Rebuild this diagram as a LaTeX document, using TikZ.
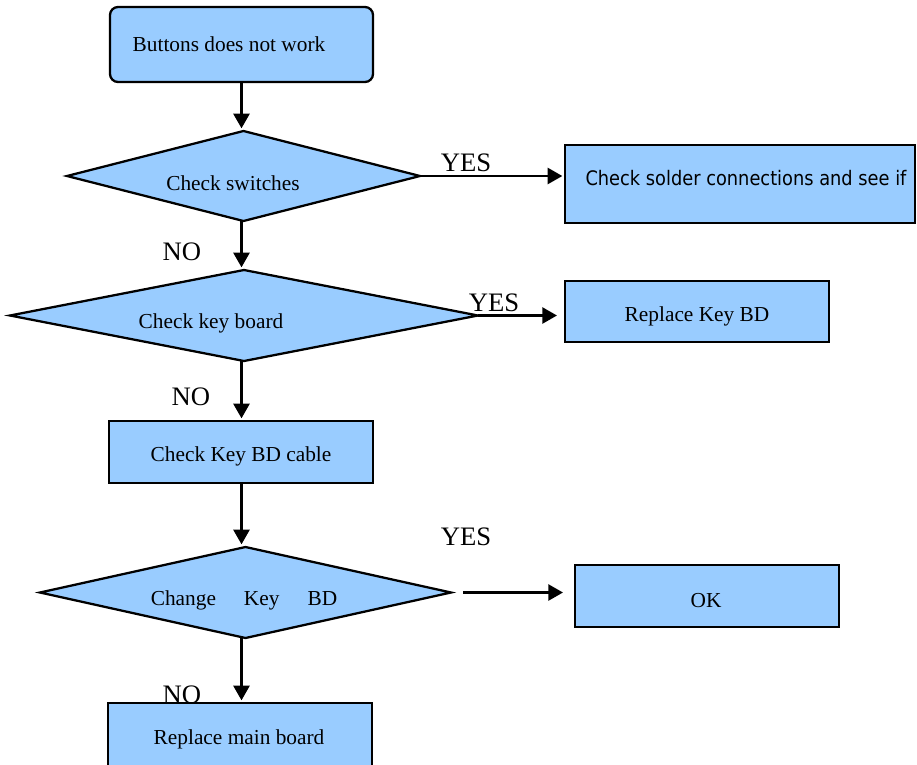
\documentclass[tikz,border=0pt]{standalone}
\usepackage{fontspec}
\setmainfont{Liberation Serif}
\newfontfamily\tahomalike{DejaVu Sans}
\usetikzlibrary{shapes.geometric,arrows.meta}
\definecolor{boxblue}{HTML}{99CCFF}
\def\u{0.75pt}
\tikzset{
  boxshape/.style={draw=black, line width=1.7pt, fill=boxblue, inner sep=0pt, outer sep=0pt},
  rectbox/.style={boxshape, rectangle},
  roundbox/.style={boxshape, rectangle, rounded corners=6pt},
  decision/.style={boxshape, diamond},
  boxtext/.style={inner sep=0pt, font=\fontsize{16pt}{19pt}\selectfont},
  lbl/.style={inner sep=0pt, font=\fontsize{20pt}{24pt}\selectfont},
  flow/.style={line width=1.9pt, -{Triangle[length=11pt,width=12pt]}, shorten >=2pt},
}
\begin{document}
\begin{tikzpicture}[x=0.75pt,y=-0.75pt]
\useasboundingbox (0,0) rectangle (917,764);

% shapes
\node[roundbox, minimum width=263*\u, minimum height=75*\u] (start) at (241.5,44.5) {};
\node[decision, minimum width=353*\u, minimum height=90*\u] (d1) at (243.5,176) {};
\node[rectbox, minimum width=350*\u, minimum height=78*\u] (solder) at (740,184) {};
\node[decision, minimum width=468*\u, minimum height=91*\u] (d2) at (244,315.5) {};
\node[rectbox, minimum width=264*\u, minimum height=61*\u] (rkb) at (697,311.5) {};
\node[rectbox, minimum width=264*\u, minimum height=62*\u] (cable) at (241,452) {};
\node[decision, minimum width=411*\u, minimum height=91*\u] (d3) at (245.5,592.5) {};
\node[rectbox, minimum width=264*\u, minimum height=62*\u] (ok) at (707,596) {};
\node[rectbox, minimum width=264*\u, minimum height=64*\u] (main) at (240,735) {};

% texts
\node[boxtext] (tstart) at (229,44) {Buttons does not work};
\node[boxtext] (td1) at (233,183) {Check switches};
\node[inner sep=0pt, font=\tahomalike\fontsize{15pt}{18pt}\selectfont] (tsolder) at (746,178) {\scalebox{0.89}[1]{Check solder connections and see if}};
\node[boxtext] (td2) at (211,323) {Check key board};
\node[boxtext] (trkb) at (697,316) {Replace Key BD};
\node[boxtext] (tcable) at (241,456) {Check Key BD cable};
\node[boxtext] (td3) at (244,600) {Change\hspace{21pt}Key\hspace{21pt}BD};
\node[boxtext] (tok) at (706,601) {OK};
\node[boxtext] (tmain) at (239,739) {Replace main board};

% labels
\node[lbl] (yes1) at (466,163) {YES};
\node[lbl] (yes2) at (494,303) {YES};
\node[lbl] (yes3) at (466,537) {YES};
\node[lbl] (no1) at (182,252) {NO};
\node[lbl] (no2) at (191,397) {NO};
\node[lbl] (no3) at (182,695) {NO};

% connectors
\draw[flow] (start.south) -- (start.south |- d1.north);
\draw[flow] (d1.south -| start.south) -- (start.south |- d2.north);
\draw[flow] (d2.south -| start.south) -- (start.south |- cable.north);
\draw[flow] (cable.south -| start.south) -- (start.south |- d3.north);
\draw[flow] (d3.south -| start.south) -- (start.south |- main.north);
\draw[flow] (d1.east) -- (solder.west |- d1.east);
\draw[flow, shorten >=6pt] (d2.east) -- (rkb.west |- d2.east);
\draw[flow, shorten <=9pt, shorten >=9pt] (d3.east) -- (ok.west |- d3.east);
\end{tikzpicture}
\end{document}
